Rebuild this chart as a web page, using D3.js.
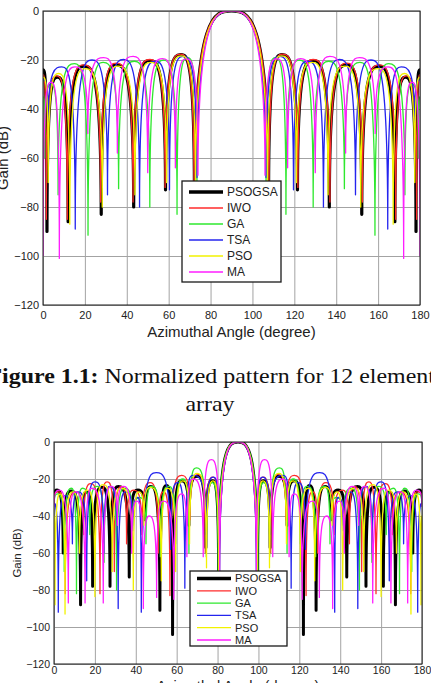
<!DOCTYPE html>
<html>
<head>
<meta charset="utf-8">
<script src="https://cdn.jsdelivr.net/npm/d3@7"></script>
<style>
  body { margin: 0; background: #fff; }
  svg { display: block; }
</style>
</head>
<body>
<svg id="fig" width="431" height="683"></svg>
<script>
// ---- data: [angle (deg), gain (dB)] at nulls and lobe peaks ----
var seriesNames = ['PSOGSA', 'IWO', 'GA', 'TSA', 'PSO', 'MA']
var seriesColors = ['#000000', '#ff2b2b', '#2ee82e', '#2424ee', '#f2f200', '#ff1eff']
var angleTicks = [0, 20, 40, 60, 80, 100, 120, 140, 160, 180]
var gainTicks = [0, -20, -40, -60, -80, -100, -120]

// figure 1.1 : 12 element array
var psogsa12 = [[0,-24],[1.9,-90],[6.8,-27],[12,-86],[19.5,-22.5],[27.8,-83],[35,-22],[43.3,-80],[51,-20.2],[58.5,-73],[65.8,-17.8],[72.3,-75],[90,0],
  [107.7,-75],[114.2,-17.8],[121.5,-73],[129,-20.2],[136.7,-80],[145,-22],[152.2,-83],[160.5,-22.5],[168,-86],[173.2,-27],[178.1,-90],[180,-24]]
var iwo12 = [[0,-26],[1.6,-85],[6.5,-26.5],[11.6,-85],[19.3,-22],[27.5,-78],[35,-21.3],[43,-78],[51,-19.8],[58.3,-72],[65.7,-17.6],[72.1,-75],[90,0],
  [107.9,-75],[114.3,-17.6],[121.7,-72],[129,-19.8],[137,-78],[145,-21.3],[152.5,-78],[160.7,-22],[168.4,-85],[173.5,-26.5],[178.4,-85],[180,-26]]
var ga12 = [[0,-35],[0.8,-60],[3.8,-30],[7.2,-75],[15,-21.5],[21.5,-91.5],[28.7,-21],[36.1,-72.5],[43.6,-20.5],[51,-80],[57.6,-20],[64,-83],[69,-19],[73.5,-70],[90,0],
  [106.5,-70],[111,-19],[116,-83],[122.4,-20],[129,-80],[136.4,-20.5],[143.9,-72.5],[151.3,-21],[158.5,-91.5],[165,-21.5],[172.8,-75],[176.2,-30],[179.2,-60],[180,-35]]
var tsa12 = [[0,-28],[2.5,-45],[9,-22.8],[15.4,-89],[23.4,-20],[30.8,-75],[38.5,-19.8],[46.1,-80],[53.6,-20.5],[60.4,-73],[67,-18.5],[73.5,-68],[90,0],
  [106.5,-68],[113,-18.5],[119.6,-73],[126.4,-20.5],[133.9,-80],[141.5,-19.8],[149.2,-75],[156.6,-20],[164.6,-89],[171,-22.8],[177.5,-45],[180,-28]]
var pso12 = [[0,-27],[2.5,-70],[7.5,-25.5],[12.8,-87],[20,-23.5],[28.3,-80],[35.8,-22.5],[43.9,-75],[51.5,-21],[59,-70],[66,-18.3],[72.8,-72],[90,0],
  [107.2,-72],[114,-18.3],[121,-70],[128.5,-21],[136.1,-75],[144.2,-22.5],[151.7,-80],[160,-23.5],[167.2,-87],[172.5,-25.5],[177.5,-70],[180,-27]]
var ma12 = [[0,-100],[3.8,-29],[7.8,-101],[15.2,-22.8],[21.4,-50],[28.9,-19],[35.5,-58],[43,-18.5],[50,-66],[57,-19.4],[63.2,-64],[68.5,-19.5],[74,-67],[90,0],
  [106,-67],[111.5,-19.5],[116.8,-64],[123,-19.4],[130,-66],[137,-18.5],[144.5,-58],[151.1,-19],[158.6,-50],[164.8,-22.8],[172.2,-101],[176.2,-29],[180,-100]]

// second figure : larger array
var psogsaB = [[0,-29],[1.5,-26],[4.5,-60],[8.5,-26.5],[13,-88],[15.8,-27],[18.9,-78],[23.5,-24.5],[27.4,-78],[31.5,-24],[36.8,-73],[41,-26],[44.5,-42],[47.5,-24],[51.8,-91],[55,-23.5],[58,-104],[62.5,-21],[66,-45],[70,-18.5],[74.3,-57],[77.5,-21],[80.5,-70],[90,0],
  [99.5,-70],[102.5,-21],[105.7,-57],[110,-18.5],[114,-45],[117.5,-21],[122,-104],[125,-23.5],[128.2,-91],[132.5,-24],[135.5,-42],[139,-26],[143.2,-73],[148.5,-24],[152.6,-78],[156.5,-24.5],[161.1,-78],[164.2,-27],[167,-88],[171.5,-26.5],[175.5,-60],[178.5,-26],[180,-29]]
var iwoB = [[0,-30],[2.5,-27],[5.5,-82],[10.5,-27],[14.5,-50],[18,-22.5],[22.5,-82],[26,-21.5],[29.5,-70],[33,-24],[35.5,-55],[39,-26],[43,-50],[47,-22],[51,-60],[53.5,-27],[56.7,-83],[62.5,-18],[66.5,-42],[70.5,-17.5],[74,-60],[77.8,-19],[80.8,-70],[90,0],
  [99.2,-70],[102.2,-19],[106,-60],[109.5,-17.5],[113.5,-42],[117.5,-18],[123.3,-83],[126.5,-27],[129,-60],[133,-22],[137,-50],[141,-26],[144.5,-55],[147,-24],[150.5,-70],[154,-21.5],[157.5,-82],[162,-22.5],[165.5,-50],[169.5,-27],[174.5,-82],[177.5,-27],[180,-30]]
var gaB = [[0,-35],[1.8,-28],[5,-70],[8.5,-25],[11,-82],[14,-25],[17.5,-50],[21,-24],[24.5,-65],[28,-24],[30.6,-80],[34.5,-25],[38.5,-45],[42,-30],[45,-55],[47.7,-24],[52,-62],[56,-24],[59.5,-55],[63,-20],[66,-60],[69.7,-14],[74.5,-62],[77.5,-22],[80.3,-70],[90,0],
  [99.7,-70],[102.5,-22],[105.5,-62],[110.3,-14],[114,-60],[117,-20],[120.5,-55],[124,-24],[128,-62],[132.3,-24],[135,-55],[138,-30],[141.5,-45],[145.5,-25],[149.4,-80],[152,-24],[155.5,-65],[159,-24],[162.5,-50],[166,-25],[169,-82],[171.5,-25],[175,-70],[178.2,-28],[180,-35]]
var tsaB = [[0,-33],[2.1,-92],[5.5,-29],[9,-55],[12,-27],[16,-75],[20,-21.5],[24.4,-60],[27.5,-24],[31.4,-90],[35,-27],[38.5,-48],[41,-30],[42.7,-92],[50,-16.5],[57,-58],[60.5,-22],[64,-79],[68,-18],[74.5,-50],[78,-19],[81,-70],[90,0],
  [99,-70],[102,-19],[105.5,-50],[112,-18],[116,-79],[119.5,-22],[123,-58],[130,-16.5],[137.3,-92],[139,-30],[141.5,-48],[145,-27],[148.6,-90],[152.5,-24],[155.6,-60],[160,-21.5],[164,-75],[168,-27],[171,-55],[174.5,-29],[177.9,-92],[180,-33]]
var psoB = [[0,-40],[0.5,-88],[3,-28],[5.4,-93],[9,-27],[12.5,-60],[16.5,-26],[20,-83.5],[24,-23],[28.5,-70],[33,-25],[38.8,-80],[41.5,-27],[44,-45],[47,-24.5],[52.5,-75],[55.5,-25],[59.5,-70],[63,-21],[66.3,-55],[70,-17],[74.6,-68],[77.8,-21],[80.6,-72],[90,0],
  [99.4,-72],[102.2,-21],[105.4,-68],[110,-17],[113.7,-55],[117,-21],[120.5,-70],[124.5,-25],[127.5,-75],[133,-24.5],[136,-45],[138.5,-27],[141.2,-80],[147,-25],[151.5,-70],[156,-23],[160,-83.5],[163.5,-26],[167.5,-60],[171,-27],[174.6,-93],[177,-28],[179.5,-88],[180,-40]]
var maB = [[0,-35],[2.5,-26],[7,-87],[10.5,-27],[15.2,-87],[18.5,-25],[24.1,-87],[28,-24],[31,-45],[34,-24],[38,-60],[40.5,-32],[43.7,-90],[46.5,-40],[50.2,-84],[53.5,-32],[58.6,-85],[62.5,-28],[65,-62],[68,-20],[73,-62],[77,-9.5],[81,-70],[90,0],
  [99,-70],[103,-9.5],[107,-62],[112,-20],[115,-62],[117.5,-28],[121.4,-85],[126.5,-32],[129.8,-84],[133.5,-40],[136.3,-90],[139.5,-32],[142,-60],[146,-24],[149,-45],[152,-24],[155.9,-87],[161.5,-25],[164.8,-87],[169.5,-27],[173,-87],[177.5,-26],[180,-35]]

var svg = d3.select('#fig')

// lobe curve: vertical tangent at the low end of a segment, flat tangent at the high end
function lobeCurve(context) {
  var pts
  return {
    areaStart: function(){}, areaEnd: function(){},
    lineStart: function(){ pts = [] },
    point: function(x, y){ pts.push([+x, +y]) },
    lineEnd: function(){
      if (!pts.length) return
      context.moveTo(pts[0][0], pts[0][1])
      for (var i = 1; i < pts.length; i++) {
        var x0 = pts[i-1][0], y0 = pts[i-1][1], x1 = pts[i][0], y1 = pts[i][1]
        var dx = x1 - x0
        if (y0 > y1) {
          context.bezierCurveTo(x0, y1, x0 + 0.55 * dx, y1, x1, y1)
        } else {
          context.bezierCurveTo(x1 - 0.55 * dx, y0, x1, y0, x1, y1)
        }
      }
    }
  }
}

function drawPanel(id, p, data) {
  var x = d3.scaleLinear().domain([0, 180]).range([p.x0, p.x1])
  var y = d3.scaleLinear().domain([-120, 0]).range([p.y1, p.y0])
  var h = p.y1 - p.y0, w = p.x1 - p.x0

  var g = svg.append('g').attr('id', id)

  g.append('clipPath').attr('id', id + '-clip')
    .append('rect').attr('x', p.x0).attr('y', p.y0).attr('width', w).attr('height', h)

  // grid
  var gx = g.append('g').attr('transform', 'translate(0,' + p.y1 + ')')
    .call(d3.axisBottom(x).tickValues(angleTicks).tickSize(-h).tickFormat(''))
  var gy = g.append('g').attr('transform', 'translate(' + p.x0 + ',0)')
    .call(d3.axisLeft(y).tickValues(gainTicks).tickSize(-w).tickFormat(''))
  g.selectAll('.domain').remove()
  gx.selectAll('line').attr('stroke', '#a3a3a3').attr('stroke-width', 1)
  gy.selectAll('line').attr('stroke', '#a3a3a3').attr('stroke-width', 1)

  // tick labels
  var lx = g.append('g').attr('transform', 'translate(0,' + p.y1 + ')')
    .call(d3.axisBottom(x).tickValues(angleTicks).tickSize(0).tickPadding(p.xPad))
  var ly = g.append('g').attr('transform', 'translate(' + p.x0 + ',0)')
    .call(d3.axisLeft(y).tickValues(gainTicks).tickSize(0).tickPadding(4))
  ;[lx, ly].forEach(function(a){
    a.select('.domain').remove()
    a.selectAll('text').attr('fill', '#222').style('font-family', 'Liberation Sans, Arial, sans-serif').style('font-size', p.tickFont + 'px')
  })

  // curves
  var line = d3.line().x(function(d){ return x(d[0]) }).y(function(d){ return y(d[1]) }).curve(lobeCurve)
  g.append('g').attr('clip-path', 'url(#' + id + '-clip)')
    .selectAll('path').data(data).enter().append('path')
      .attr('d', line)
      .attr('fill', 'none')
      .attr('stroke', function(d, i){ return seriesColors[i] })
      .attr('stroke-width', function(d, i){ return i === 0 ? p.thick : 1.3 })
      .attr('stroke-linejoin', 'round')

  // frame
  g.append('rect').attr('x', p.x0).attr('y', p.y0).attr('width', w).attr('height', h)
    .attr('fill', 'none').attr('stroke', '#1a1a1a').attr('stroke-width', 1)

  // axis titles
  g.append('text').text('Azimuthal Angle (degree)')
    .attr('x', (p.x0 + p.x1) / 2).attr('y', p.xTitleY)
    .attr('text-anchor', 'middle').attr('fill', '#222')
    .style('font-family', 'Liberation Sans, Arial, sans-serif').style('font-size', p.xTitleFont + 'px')
  g.append('text').text('Gain (dB)')
    .attr('transform', 'translate(' + p.yTitleX + ',' + (p.y0 + p.y1) / 2 + ') rotate(-90)')
    .attr('text-anchor', 'middle').attr('fill', '#222')
    .style('font-family', 'Liberation Sans, Arial, sans-serif').style('font-size', p.yTitleFont + 'px')

  // legend
  var L = p.legend
  var rows = d3.scalePoint().domain(seriesNames).range([L.y0 + L.first, L.y1 - L.last])
  var lg = g.append('g')
  lg.append('rect').attr('x', L.x0).attr('y', L.y0).attr('width', L.x1 - L.x0).attr('height', L.y1 - L.y0)
    .attr('fill', '#fff').attr('stroke', '#1a1a1a').attr('stroke-width', 1.3)
  var item = lg.selectAll('g.item').data(seriesNames).enter().append('g').attr('class', 'item')
  item.append('line')
    .attr('x1', L.x0 + 7).attr('x2', L.x0 + 41)
    .attr('y1', function(d){ return rows(d) }).attr('y2', function(d){ return rows(d) })
    .attr('stroke', function(d, i){ return seriesColors[i] })
    .attr('stroke-width', function(d, i){ return i === 0 ? 3.5 : 1.3 })
  item.append('text').text(function(d){ return d })
    .attr('x', L.x0 + 45).attr('y', function(d){ return rows(d) }).attr('dy', '0.36em')
    .attr('fill', '#222')
    .style('font-family', 'Liberation Sans, Arial, sans-serif').style('font-size', L.font + 'px')
}

drawPanel('fig1', {
  x0: 43, x1: 420, y0: 11, y1: 305, xPad: 6, tickFont: 11, thick: 3.2,
  xTitleY: 337, xTitleFont: 15, yTitleX: 8, yTitleFont: 15,
  legend: { x0: 182, x1: 281, y0: 181, y1: 282, first: 11, last: 10, font: 12 }
}, [psogsa12, iwo12, ga12, tsa12, pso12, ma12])

drawPanel('fig2', {
  x0: 54, x1: 422, y0: 442, y1: 664, xPad: 3, tickFont: 10.5, thick: 3,
  xTitleY: 691, xTitleFont: 14.5, yTitleX: 20.5, yTitleFont: 11.5,
  legend: { x0: 190, x1: 287, y0: 571, y1: 646, first: 7.5, last: 6, font: 11 }
}, [psogsaB, iwoB, gaB, tsaB, psoB, maB])

// caption between the two figures (the scan is slightly stretched sideways)
var capFont = 'Liberation Serif, Times New Roman, serif'
var cap = svg.append('text').attr('transform', 'translate(-12.5,383) scale(1.112,1)')
  .style('font-family', capFont).style('font-size', '21.5px').attr('fill', '#111')
cap.append('tspan').text('Figure 1.1:').style('font-weight', 'bold')
cap.append('tspan').text(' Normalized pattern for 12 elements')
svg.append('text').text('array').attr('transform', 'translate(210,411) scale(1.112,1)').attr('text-anchor', 'middle')
  .style('font-family', capFont).style('font-size', '21.5px').attr('fill', '#111')
</script>
</body>
</html>
